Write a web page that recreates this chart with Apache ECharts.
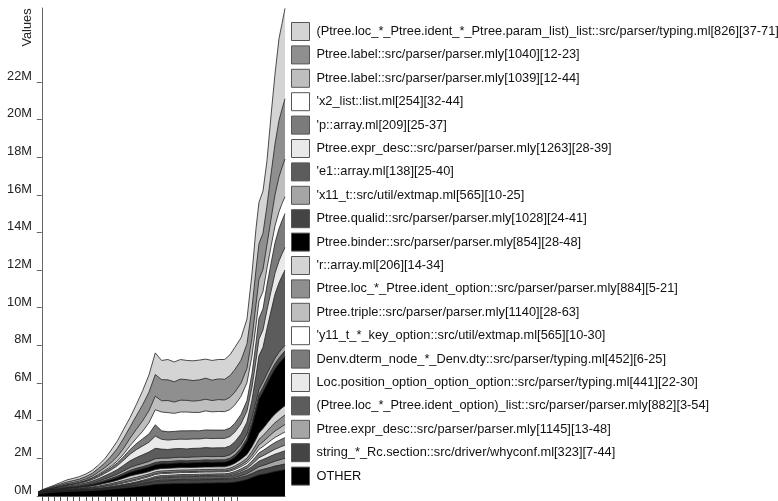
<!DOCTYPE html>
<html>
<head>
<meta charset="utf-8">
<title>heap profile</title>
<script src="https://cdn.jsdelivr.net/npm/echarts@6/dist/echarts.min.js"></script>
<style>
    html, body { margin: 0; padding: 0; background: #fff; }
    #heap_chart { width: 778px; height: 501px; }
</style>
</head>
<body>
<div id="heap_chart"></div>
<script>
// sample times (one unit = one tick on the time axis)
var xs = [-0.6, 0, 1, 2, 3, 4, 5, 6, 7, 8, 9, 10, 11, 12, 13, 14, 15, 16, 17, 18,
    19, 20, 21, 22, 23, 24, 25, 26, 27, 28, 29,
    29.84, 30.63, 31.59, 32.54, 33.33, 33.97, 34.44, 35.08, 35.71, 36.35, 36.98, 37.62, 38.1, 38.57];
var xTicks = [0, 1, 2, 3, 4, 5, 6, 7, 8, 9, 10, 11, 12, 13, 14, 15, 16, 17, 18, 19,
    20, 21, 22, 23, 24, 25, 26, 27, 28, 29, 30, 31];
var yTicks = [0, 2, 4, 6, 8, 10, 12, 14, 16, 18, 20, 22];

// legend order: top band first
var names = [
    "(Ptree.loc_*_Ptree.ident_*_Ptree.param_list)_list::src/parser/typing.ml[826][37-71]",
    "Ptree.label::src/parser/parser.mly[1040][12-23]",
    "Ptree.label::src/parser/parser.mly[1039][12-44]",
    "'x2_list::list.ml[254][32-44]",
    "'p::array.ml[209][25-37]",
    "Ptree.expr_desc::src/parser/parser.mly[1263][28-39]",
    "'e1::array.ml[138][25-40]",
    "'x11_t::src/util/extmap.ml[565][10-25]",
    "Ptree.qualid::src/parser/parser.mly[1028][24-41]",
    "Ptree.binder::src/parser/parser.mly[854][28-48]",
    "'r::array.ml[206][14-34]",
    "Ptree.loc_*_Ptree.ident_option::src/parser/parser.mly[884][5-21]",
    "Ptree.triple::src/parser/parser.mly[1140][28-63]",
    "'y11_t_*_key_option::src/util/extmap.ml[565][10-30]",
    "Denv.dterm_node_*_Denv.dty::src/parser/typing.ml[452][6-25]",
    "Loc.position_option_option_option::src/parser/typing.ml[441][22-30]",
    "(Ptree.loc_*_Ptree.ident_option)_list::src/parser/parser.mly[882][3-54]",
    "Ptree.expr_desc::src/parser/parser.mly[1145][13-48]",
    "string_*_Rc.section::src/driver/whyconf.ml[323][7-44]",
    "OTHER"
];

// values in M, one per sample time
var paramList = [.005, .02, .035, .05, .08, .11, .12, .13, .14, .16, .18, .22, .32, .4, .48, .5, .6, .75, .92, 1.15,
    1.02, 1.08, 1.05, 1.04, 1.02, 1.05, 1.05, 1.01, 1.05, 1.03, 1.05,
    1.11, 1.18, 1.19, 1.32, 1.82, 2.18, 2.2, 2.24, 2.4, 3.1, 3.71, 4.35, 4.55, 4.8];
var label1040 = [.005, .02, .035, .052, .07, .09, .1, .11, .125, .15, .2, .25, .34, .43, .53, .6, .72, .85, .98, 1.15,
    1.12, 1.1, 1.08, 1.12, 1.1, 1.09, 1.1, 1.12, 1.08, 1.1, 1.1,
    1.15, 1.2, 1.22, 1.3, 1.6, 1.85, 1.9, 1.93, 2.05, 2.4, 2.7, 3.0, 3.1, 3.2];
var label1039 = [.005, .012, .022, .033, .045, .055, .06, .066, .075, .09, .12, .15, .19, .24, .31, .4, .48, .56, .64, .72,
    .6, .64, .6, .63, .62, .6, .63, .62, .6, .63, .62,
    .65, .68, .7, .76, .95, 1.1, 1.15, 1.17, 1.25, 1.45, 1.65, 1.85, 1.92, 2.0];
var x2List = [.005, .005, .007, .009, .011, .013, .015, .018, .022, .028, .05, .06, .08, .1, .14, .2, .28, .4, .6, .8,
    1.0, 1.02, .96, 1.0, 1.0, .97, .98, 1.01, .97, .99, .98,
    .98, .97, .96, .95, .94, .93, .92, .92, .91, .91, .9, .9, .9, .9];
var pArray = [.005, .008, .013, .019, .025, .03, .034, .04, .048, .06, .08, .1, .12, .15, .19, .25, .32, .38, .44, .6,
    .45, .44, .43, .44, .45, .44, .43, .44, .45, .44, .44,
    .45, .47, .5, .56, .72, .95, 1.1, 1.12, 1.32, 1.48, 1.62, 1.72, 1.77, 1.8];
var exprDesc1263 = [.005, .01, .017, .025, .033, .04, .046, .054, .065, .08, .1, .13, .16, .21, .27, .35, .42, .47, .52, .65,
    .52, .5, .49, .5, .51, .5, .49, .5, .5, .5, .5,
    .5, .52, .54, .58, .68, .8, .88, .92, .98, 1.04, 1.1, 1.15, 1.18, 1.2];
var e1Array = [.005, .012, .022, .035, .048, .06, .068, .078, .092, .11, .13, .16, .2, .24, .3, .36, .41, .46, .5, .55,
    .48, .46, .47, .46, .45, .46, .46, .47, .46, .46, .46,
    .47, .5, .55, .65, .95, 1.4, 1.8, 1.85, 2.4, 2.9, 3.4, 3.7, 3.85, 4.0];
var x11t = [.005, .008, .011, .014, .018, .022, .026, .03, .038, .048, .06, .075, .09, .105, .13, .15, .16, .17, .18, .2,
    .18, .18, .18, .18, .18, .18, .18, .18, .18, .18, .18,
    .18, .19, .2, .21, .23, .25, .26, .27, .28, .28, .29, .3, .3, .3];
var qualid = [.005, .006, .008, .01, .013, .016, .02, .024, .03, .04, .05, .06, .07, .08, .09, .1, .11, .115, .12, .12,
    .12, .12, .12, .12, .12, .12, .12, .12, .12, .12, .12,
    .12, .13, .14, .16, .19, .22, .24, .25, .26, .27, .28, .29, .3, .3];
var binder = [.005, .01, .014, .018, .022, .026, .03, .036, .045, .06, .08, .1, .12, .14, .17, .2, .22, .23, .24, .25,
    .25, .24, .25, .25, .24, .25, .25, .26, .25, .25, .25,
    .27, .32, .45, .7, 1.1, 1.5, 1.8, 1.95, 2.1, 2.25, 2.4, 2.5, 2.55, 2.6];
var rArray = [.005, .008, .012, .016, .02, .025, .03, .035, .045, .055, .07, .08, .09, .1, .12, .14, .14, .135, .13, .13,
    .13, .13, .13, .13, .13, .13, .13, .13, .13, .13, .13,
    .14, .15, .17, .2, .25, .3, .34, .37, .41, .44, .46, .48, .49, .5];
var locIdentOption = [.005, .007, .01, .012, .015, .018, .021, .025, .03, .04, .05, .058, .066, .075, .085, .1, .1, .095, .09, .09,
    .09, .09, .09, .09, .09, .09, .09, .09, .09, .09, .09,
    .1, .11, .13, .16, .21, .26, .3, .33, .37, .41, .44, .47, .49, .5];
var triple = [.005, .006, .008, .01, .012, .014, .016, .018, .022, .026, .03, .034, .038, .043, .05, .06, .06, .055, .05, .05,
    .05, .05, .05, .05, .05, .05, .05, .05, .05, .05, .05,
    .06, .07, .09, .11, .15, .19, .23, .25, .28, .31, .34, .36, .38, .4];
var y11Key = [.01, .012, .015, .018, .02, .022, .024, .026, .03, .035, .04, .045, .05, .06, .07, .08, .085, .09, .095, .1,
    .1, .1, .1, .1, .1, .1, .1, .1, .1, .1, .1,
    .1, .11, .12, .13, .15, .17, .19, .21, .23, .25, .27, .28, .29, .3];
var denvDterm = [.005, .006, .008, .009, .01, .011, .012, .013, .015, .017, .02, .023, .026, .03, .035, .04, .045, .05, .06, .07,
    .08, .08, .08, .08, .08, .08, .08, .08, .08, .08, .08,
    .09, .1, .12, .14, .18, .22, .26, .28, .31, .34, .36, .38, .39, .4];
var locPosition = [.005, .005, .005, .006, .007, .008, .008, .009, .009, .01, .01, .012, .014, .016, .018, .02, .025, .03, .035, .04,
    .04, .04, .04, .04, .04, .04, .04, .04, .04, .04, .04,
    .05, .06, .07, .09, .12, .15, .18, .2, .22, .24, .26, .28, .29, .3];
var locIdentList = [.01, .01, .012, .014, .016, .018, .02, .022, .025, .028, .03, .035, .04, .05, .06, .07, .08, .09, .1, .12,
    .13, .13, .13, .14, .14, .14, .14, .14, .14, .14, .14,
    .14, .15, .17, .19, .23, .27, .3, .32, .34, .36, .37, .38, .39, .4];
var exprDesc1145 = [.005, .005, .005, .006, .007, .008, .008, .009, .009, .01, .01, .012, .014, .016, .018, .02, .025, .03, .035, .04,
    .04, .04, .04, .04, .04, .04, .04, .04, .04, .04, .04,
    .05, .06, .08, .1, .13, .16, .18, .2, .22, .24, .26, .28, .29, .3];
var stringRc = [.01, .015, .02, .02, .025, .03, .03, .03, .035, .035, .04, .045, .05, .06, .07, .08, .09, .11, .13, .15,
    .16, .16, .17, .17, .17, .17, .18, .18, .18, .18, .18,
    .18, .19, .2, .21, .22, .24, .25, .26, .27, .28, .29, .29, .3, .3];
var other = [.1, .14, .17, .2, .22, .24, .25, .26, .27, .28, .3, .33, .36, .39, .42, .45, .49, .53, .57, .62,
    .64, .65, .66, .67, .67, .68, .68, .69, .69, .7, .7,
    .71, .74, .8, .88, .98, 1.06, 1.12, 1.16, 1.2, 1.25, 1.3, 1.34, 1.37, 1.4];

var heapChart = function () {

    var chart;  // eCharts对象

    var font = '"Liberation Sans", Arial, sans-serif';

    // same order as names (top band first)
    var bands = [paramList, label1040, label1039, x2List, pArray, exprDesc1263, e1Array, x11t, qualid, binder,
        rArray, locIdentOption, triple, y11Key, denvDterm, locPosition, locIdentList, exprDesc1145, stringRc, other];
    var fills = ['#d4d4d4', '#8f8f8f', '#bebebe', '#ffffff', '#7b7b7b', '#e9e9e9', '#5c5c5c', '#a5a5a5', '#444444', '#000000',
        '#d4d4d4', '#8f8f8f', '#bebebe', '#ffffff', '#7b7b7b', '#e9e9e9', '#5c5c5c', '#a5a5a5', '#444444', '#000000'];

    function init() {
        chart = echarts.init(document.getElementById("heap_chart"));
        chart.setOption(buildOption());
    }

    // top edge of band i = sum of band i and every band below it
    function bandTop(i) {
        return xs.map(function (x, k) {
            var sum = 0;
            for (var j = i; j < bands.length; j++) {
                sum += bands[j][k];
            }
            return [x, +sum.toFixed(4)];
        });
    }

    function buildSeries() {
        var list = [];
        // highest band drawn first, each lower band painted over it
        for (var i = 0; i < bands.length; i++) {
            list.push({
                name: names[i],
                type: 'line',
                symbol: 'none',
                silent: true,
                color: fills[i],
                data: bandTop(i),
                lineStyle: {color: '#222', width: 0.8},
                areaStyle: {color: fills[i], opacity: 1, origin: 'start'}
            });
        }
        return list;
    }

    function buildOption() {
        return {
            animation: false,
            grid: {left: 38, right: 493, top: 8, bottom: 5},
            graphic: [{
                type: 'text',
                x: 27.5,
                y: 27.5,
                rotation: Math.PI / 2,
                style: {
                    text: 'Values',
                    fontSize: 12.8,
                    fontFamily: font,
                    fill: '#222',
                    align: 'center',
                    verticalAlign: 'middle'
                }
            }],
            legend: {
                type: 'plain',
                orient: 'vertical',
                left: 291,
                top: 22,
                padding: 0,
                itemWidth: 18,
                itemHeight: 18,
                itemGap: 4.4,
                icon: 'rect',
                selectedMode: false,
                data: names,
                itemStyle: {borderColor: '#555', borderWidth: 1},
                textStyle: {fontSize: 12.8, lineHeight: 18, fontFamily: font, color: '#111', padding: [0, 0, 0, 2]}
            },
            xAxis: {
                type: 'value',
                min: -0.6,
                max: 38.57,
                splitLine: {show: false},
                axisLabel: {show: false},
                axisLine: {lineStyle: {color: '#555'}},
                axisTick: {show: true, length: 5, customValues: xTicks, lineStyle: {color: '#555'}}
            },
            yAxis: {
                type: 'value',
                min: 0,
                max: 25.92,
                interval: 2,
                splitLine: {show: false},
                axisLine: {show: true, lineStyle: {color: '#666'}},
                axisTick: {show: true, length: 5, customValues: yTicks, lineStyle: {color: '#666'}},
                axisLabel: {
                    customValues: yTicks,
                    margin: 6,
                    verticalAlign: 'bottom',
                    lineHeight: 11,
                    fontSize: 12.8,
                    fontFamily: font,
                    color: '#222',
                    formatter: function (v) { return v + 'M'; }
                }
            },
            series: buildSeries()
        };
    }

    return {
        init: init
    }
}();

heapChart.init();
</script>
</body>
</html>
